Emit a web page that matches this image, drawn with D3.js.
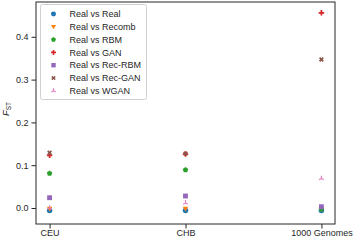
<!DOCTYPE html>
<html lang="en">
<head>
<meta charset="UTF-8">
<title>FST scatter</title>
<style>
  body { margin: 0; background: #fff; }
  svg text { font-family: "Liberation Sans", Arial, sans-serif; fill: #262626; }
</style>
</head>
<body>
<div id="chart"></div>
<script src="https://cdn.jsdelivr.net/npm/d3@7"></script>
<script>
const width = 353;
const height = 241;

// data
const populations = ["CEU", "CHB", "1000 Genomes"];
const seriesNames = ["Real vs Real", "Real vs Recomb", "Real vs RBM", "Real vs GAN",
                     "Real vs Rec-RBM", "Real vs Rec-GAN", "Real vs WGAN"];
const realVsReal   = [-0.006, -0.006, -0.006];
const realVsRecomb = [-0.002, -0.002, -0.003];
const realVsRBM    = [0.081, 0.089, -0.003];
const realVsGAN    = [0.123, 0.126, 0.456];
const realVsRecRBM = [0.024, 0.028, 0.003];
const realVsRecGAN = [0.129, 0.127, 0.347];
const realVsWGAN   = [0.000, 0.012, 0.069];
const yTicks = [0.0, 0.1, 0.2, 0.3, 0.4];

const seriesValues = [realVsReal, realVsRecomb, realVsRBM, realVsGAN, realVsRecRBM, realVsRecGAN, realVsWGAN];
const colors = ["#1f77b4", "#ff7f0e", "#2ca02c", "#d62728", "#9467bd", "#8c564b", "#e377c2"];
const symbols = [d3.symbolCircle, "tridown", "pentagon", "plus", d3.symbolSquare, "x", "tri"];

const margin = {top: 2, right: 18, bottom: 17, left: 36};

const svg = d3.select("#chart").append("svg")
    .attr("width", width)
    .attr("height", height);

const x = d3.scaleLinear()
    .domain([-0.1, 2.1])
    .range([margin.left, width - margin.right]);

const y = d3.scaleLinear()
    .domain([-0.0374, 0.4813])
    .range([height - margin.bottom, margin.top]);

// marker paths, sized in px
function markerPath(kind, s) {
    const r = s / 2;
    if (kind === "tridown") {
        return `M${-r},${-r * 0.75}L${r},${-r * 0.75}L0,${r}Z`;
    }
    if (kind === "pentagon") {
        const pts = d3.range(5).map(i => {
            const a = -Math.PI / 2 + i * 2 * Math.PI / 5;
            return [r * 1.05 * Math.cos(a), r * 1.05 * Math.sin(a)];
        });
        return "M" + pts.join("L") + "Z";
    }
    if (kind === "plus") {
        const w = r * 0.32;
        return `M${-w},${-r}H${w}V${-w}H${r}V${w}H${w}V${r}H${-w}V${w}H${-r}V${-w}H${-w}Z`;
    }
    if (kind === "x") {
        return d3.symbol(d3.symbolCross, s * s * 0.5)().toString();
    }
    if (kind === "tri") {
        return `M0,0L0,${-r}M0,0L${-r * 0.87},${r * 0.5}M0,0L${r * 0.87},${r * 0.5}`;
    }
    return d3.symbol(kind, s * s * 0.78)();
}

function drawMarker(g, i, cx, cy, s) {
    const kind = symbols[i];
    const p = g.append("path")
        .attr("d", markerPath(kind, s))
        .attr("transform", `translate(${cx},${cy})` + (kind === "x" ? " rotate(45)" : ""));
    if (kind === "tri") {
        p.attr("fill", "none").attr("stroke", colors[i]).attr("stroke-width", 1.1);
    } else {
        p.attr("fill", colors[i]);
    }
}

// points
const pts = svg.append("g");
seriesValues.forEach((vals, i) => {
    vals.forEach((v, j) => drawMarker(pts, i, x(j), y(v), 5.5));
});

// frame
svg.append("rect")
    .attr("x", margin.left)
    .attr("y", margin.top)
    .attr("width", width - margin.right - margin.left)
    .attr("height", height - margin.bottom - margin.top)
    .attr("fill", "none")
    .attr("stroke", "#262626")
    .attr("stroke-width", 1);

// axes
const yAxis = svg.append("g")
    .attr("transform", `translate(${margin.left},0)`)
    .call(d3.axisLeft(y).tickValues(yTicks).tickFormat(d3.format(".1f")).tickSize(4.5).tickPadding(3));
const xAxis = svg.append("g")
    .attr("transform", `translate(0,${height - margin.bottom})`)
    .call(d3.axisBottom(x).tickValues([0, 1, 2]).tickFormat(i => populations[i]).tickSize(4.5).tickPadding(1.5));
[xAxis, yAxis].forEach(a => {
    a.select(".domain").remove();
    a.selectAll(".tick line").attr("stroke", "#262626");
    a.selectAll("text").attr("font-size", 9).attr("fill", "#262626");
});

// y label
const ylab = svg.append("text")
    .attr("transform", `translate(9,109) rotate(-90)`)
    .attr("text-anchor", "middle")
    .attr("font-size", 9.5)
    .attr("font-style", "italic");
ylab.append("tspan").text("F");
ylab.append("tspan").attr("font-size", 6.5).attr("dy", 2).attr("font-style", "normal").text("ST");

// legend
const legend = svg.append("g");
legend.append("rect")
    .attr("x", 40.5).attr("y", 4.5)
    .attr("width", 106).attr("height", 95)
    .attr("rx", 2)
    .attr("fill", "#fff")
    .attr("stroke", "#d0d0d0");
seriesNames.forEach((name, i) => {
    const ly = 14 + i * 12.8;
    drawMarker(legend, i, 53.5, ly, 5);
    legend.append("text")
        .attr("x", 69.5).attr("y", ly)
        .attr("dy", "0.35em")
        .attr("font-size", 9)
        .text(name);
});
</script>
</body>
</html>
